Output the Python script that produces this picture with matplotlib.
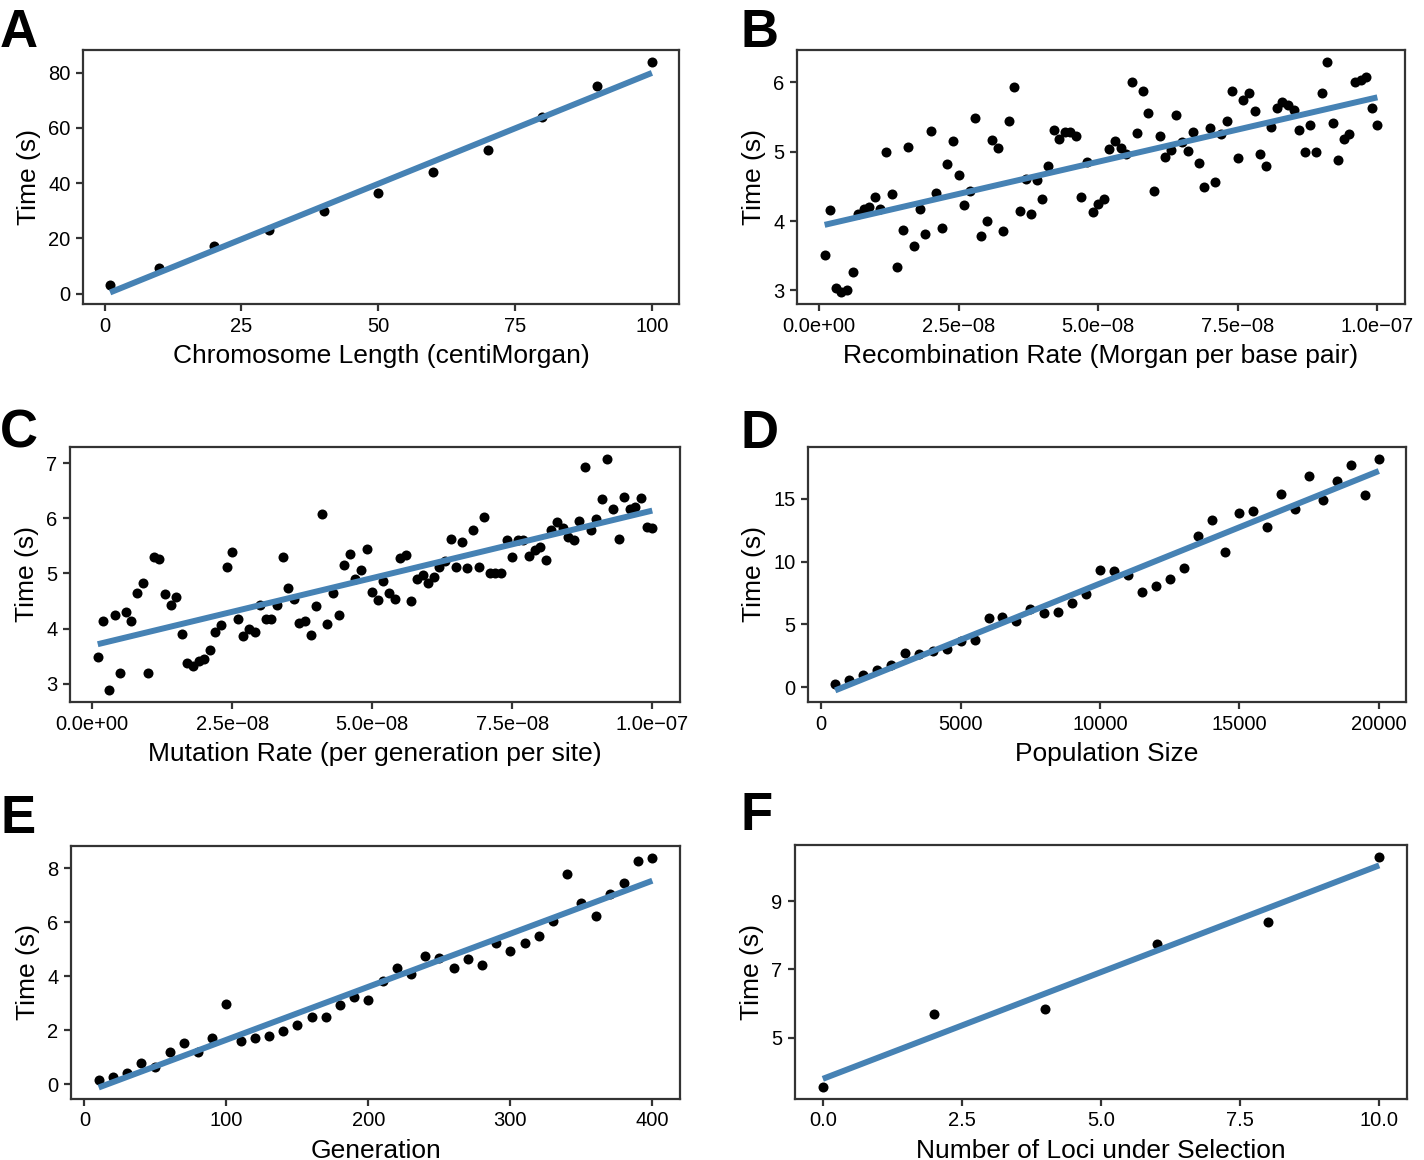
import numpy as np
import matplotlib
matplotlib.use('Agg')
import matplotlib.pyplot as plt

plt.rcParams['font.family'] = ['Liberation Sans', 'DejaVu Sans']

# ---- data ----
# A: chromosome length
chrom_len = [1, 10, 20, 30, 40, 50, 60, 70, 80, 90, 100]
chrom_time = [3.2, 9.4, 17.3, 23.0, 30.0, 36.3, 44.0, 52.0, 64.0, 75.0, 84.0]

# B: recombination rate (1e-9 .. 1e-7)
recomb_rate = np.arange(1, 101) * 1e-9
recomb_time = [3.51, 4.16, 3.04, 2.97, 3.01, 3.27, 4.10, 4.17, 4.20, 4.35,
               4.18, 5.00, 4.39, 3.33, 3.87, 5.07, 3.64, 4.18, 3.81, 5.30,
               4.41, 3.90, 4.82, 5.16, 4.67, 4.23, 4.43, 5.48, 3.78, 4.00,
               5.17, 5.06, 3.86, 5.44, 5.93, 4.15, 4.61, 4.10, 4.59, 4.32,
               4.79, 5.32, 5.18, 5.28, 5.29, 5.23, 4.35, 4.85, 4.13, 4.25,
               4.32, 5.04, 5.16, 5.06, 4.96, 6.01, 5.27, 5.88, 5.56, 4.44,
               5.22, 4.93, 5.02, 5.53, 5.14, 5.01, 5.28, 4.83, 4.49, 5.34,
               4.56, 5.25, 5.44, 5.87, 4.91, 5.75, 5.85, 5.58, 4.96, 4.79,
               5.36, 5.63, 5.72, 5.68, 5.60, 5.31, 5.00, 5.38, 4.99, 5.84,
               6.30, 5.42, 4.88, 5.18, 5.25, 6.00, 6.03, 6.07, 5.63, 5.38]

# C: mutation rate (1e-9 .. 1e-7)
mut_rate = np.arange(1, 101) * 1e-9
mut_time = [3.49, 4.13, 2.88, 4.24, 3.19, 4.30, 4.13, 4.65, 4.83, 3.20,
            5.29, 5.26, 4.63, 4.42, 4.57, 3.90, 3.38, 3.33, 3.42, 3.45,
            3.61, 3.93, 4.06, 5.11, 5.39, 4.18, 3.87, 4.00, 3.94, 4.43,
            4.18, 4.18, 4.43, 5.30, 4.73, 4.54, 4.11, 4.14, 3.89, 4.41,
            6.07, 4.08, 4.64, 4.25, 5.15, 5.35, 4.89, 5.07, 5.45, 4.67,
            4.51, 4.87, 4.65, 4.54, 5.28, 5.33, 4.50, 4.89, 4.98, 4.83,
            4.94, 5.11, 5.23, 5.63, 5.11, 5.57, 5.09, 5.78, 5.11, 6.03,
            5.01, 5.01, 5.01, 5.60, 5.30, 5.60, 5.60, 5.31, 5.42, 5.47,
            5.25, 5.78, 5.93, 5.83, 5.66, 5.60, 5.95, 6.93, 5.78, 5.98,
            6.35, 7.08, 6.16, 5.62, 6.38, 6.17, 6.21, 6.36, 5.84, 5.83]

# D: population size
pop_size = np.arange(500, 20001, 500)
pop_time = [0.29, 0.61, 0.95, 1.38, 1.78, 2.73, 2.63, 2.86, 3.02, 3.69,
            3.74, 5.52, 5.57, 5.28, 6.26, 5.92, 5.97, 6.74, 7.43, 9.36,
            9.28, 8.91, 7.59, 8.09, 8.59, 9.47, 12.04, 13.32, 10.80, 13.90,
            14.03, 12.79, 15.38, 14.19, 16.87, 14.91, 16.45, 17.69, 15.28, 18.22]

# E: generations
gens = np.arange(10, 401, 10)
gen_time = [0.16, 0.27, 0.40, 0.78, 0.64, 1.20, 1.53, 1.19, 1.69, 2.96,
            1.60, 1.71, 1.80, 1.96, 2.20, 2.50, 2.50, 2.94, 3.22, 3.13,
            3.83, 4.32, 4.07, 4.73, 4.67, 4.32, 4.64, 4.42, 5.22, 4.93,
            5.24, 5.50, 6.06, 7.77, 6.70, 6.24, 7.06, 7.47, 8.26, 8.40]

# F: loci under selection
loci = [0, 2, 4, 6, 8, 10]
loci_time = [3.54, 5.70, 5.85, 7.74, 8.39, 10.31]

rate_ticks = [0, 2.5e-8, 5e-8, 7.5e-8, 1e-7]
rate_labels = ['0.0e+00', '2.5e\u221208', '5.0e\u221208', '7.5e\u221208', '1.0e\u221207']

W, H = 1424, 1160
fig = plt.figure(figsize=(W / 100, H / 100), dpi=100)


def make_axes(left, top, right, bottom):
    return fig.add_axes([left / W, 1 - bottom / H, (right - left) / W, (bottom - top) / H])


def draw_panel(ax, x, y, xlabel, xticks, yticks, xticklabels=None):
    x = np.asarray(x, dtype=float)
    y = np.asarray(y, dtype=float)
    # linear fit, like geom_smooth(method = "lm")
    slope, intercept = np.polyfit(x, y, 1)
    xs = np.array([x.min(), x.max()])
    ax.plot(xs, intercept + slope * xs, color='#4682B4', lw=4.3,
            solid_capstyle='butt', zorder=3)
    ax.scatter(x, y, s=52, color='black', linewidths=0, zorder=2)
    ax.margins(0.05)
    ax.set_xticks(xticks)
    if xticklabels is not None:
        ax.set_xticklabels(xticklabels)
    ax.set_yticks(yticks)
    ax.set_xlabel(xlabel, fontsize=19, labelpad=6)
    ax.set_ylabel('Time (s)', fontsize=19, labelpad=5)
    ax.tick_params(labelsize=14.5, length=5, width=1.6, color='#333333',
                   labelcolor='black', pad=4)
    for sp in ax.spines.values():
        sp.set_color('#333333')
        sp.set_linewidth(1.6)


axA = make_axes(83, 50, 679, 304)
draw_panel(axA, chrom_len, chrom_time, 'Chromosome Length (centiMorgan)',
           [0, 25, 50, 75, 100], [0, 20, 40, 60, 80])

axB = make_axes(797, 50, 1405, 304)
draw_panel(axB, recomb_rate, recomb_time, 'Recombination Rate (Morgan per base pair)',
           rate_ticks, [3, 4, 5, 6], rate_labels)

axC = make_axes(70, 447, 680, 702)
draw_panel(axC, mut_rate, mut_time, 'Mutation Rate (per generation per site)',
           rate_ticks, [3, 4, 5, 6, 7], rate_labels)

axD = make_axes(808, 447, 1406, 702)
draw_panel(axD, pop_size, pop_time, 'Population Size',
           [0, 5000, 10000, 15000, 20000], [0, 5, 10, 15])

axE = make_axes(71, 846, 680, 1099)
draw_panel(axE, gens, gen_time, 'Generation',
           [0, 100, 200, 300, 400], [0, 2, 4, 6, 8])

axF = make_axes(795, 845, 1407, 1099)
draw_panel(axF, loci, loci_time, 'Number of Loci under Selection',
           [0, 2.5, 5, 7.5, 10], [5, 7, 9], ['0.0', '2.5', '5.0', '7.5', '10.0'])

# panel letters
for letter, px, py in [('A', 0, 8), ('B', 741, 8), ('C', 0, 409),
                       ('D', 741, 409), ('E', 0, 794), ('F', 741, 791)]:
    fig.text(px / W, 1 - py / H, letter, fontsize=38, fontweight='bold',
             ha='left', va='top')

fig.savefig('out.png', dpi=100)
